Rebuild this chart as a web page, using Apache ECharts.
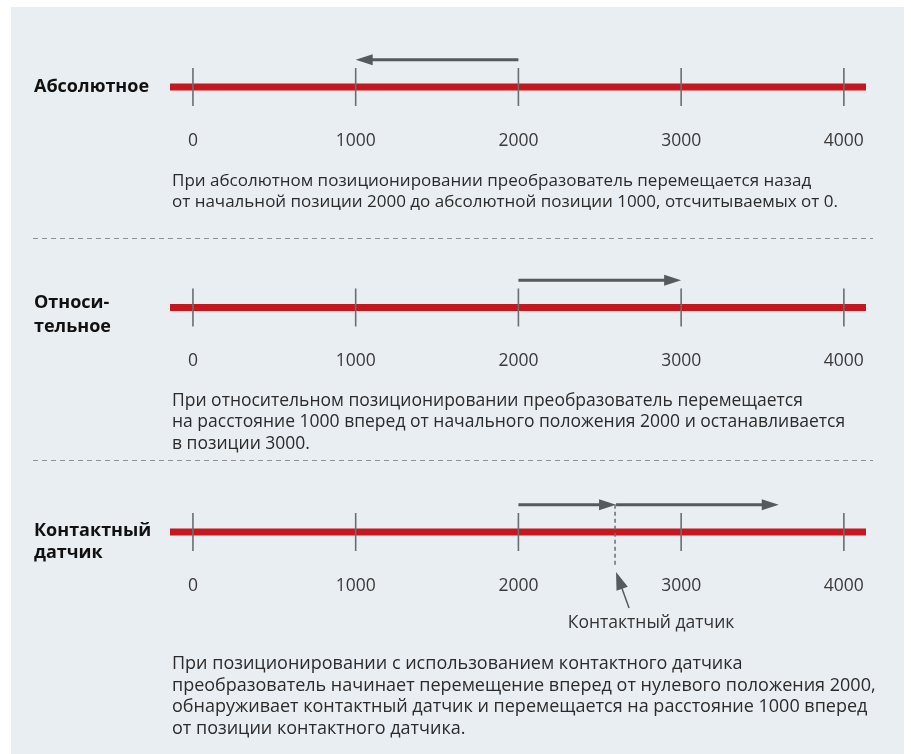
<!DOCTYPE html>
<html><head><meta charset="utf-8">
<script src="https://cdn.jsdelivr.net/npm/echarts@6/dist/echarts.min.js"></script>
<style>html,body{margin:0;padding:0;background:#fff}#c{width:911px;height:754px}</style>
</head><body><div id="c"></div>
<script>
// ---- data ----
const tickValues = [0, 1000, 2000, 3000, 4000];
const tickLabels = ['0', '1000', '2000', '3000', '4000'];
const scaleExtent = [-141, 4136];
const modeTitles = [['Абсолютное'], ['Относи-', 'тельное'], ['Контактный', 'датчик']];
const absoluteMoves = [[2000, 1000]];
const relativeMoves = [[2000, 3000]];
const sensorMoves = [[2000, 2600], [2600, 3600]];
const sensorPositions = [2600];
const sensorLabel = 'Контактный датчик';
const descAbsolute = [
  'При абсолютном позиционировании преобразователь перемещается назад',
  'от начальной позиции 2000 до абсолютной позиции 1000, отсчитываемых от 0.'
];
const descRelative = [
  'При относительном позиционировании преобразователь перемещается',
  'на расстояние 1000 вперед от начального положения 2000 и останавливается',
  'в позиции 3000.'
];
const descSensor = [
  'При позиционировании с использованием контактного датчика',
  'преобразователь начинает перемещение вперед от нулевого положения 2000,',
  'обнаруживает контактный датчик и перемещается на расстояние 1000 вперед',
  'от позиции контактного датчика.'
];

// ---- layout / style ----
const FONT = 'Open Sans';
const RED = '#c5171e';
const ARROW = '#555a5e';
const centers = [87, 307.5, 532];
const HALF = 19;
const ARROW_LEVEL = 1.44;

function arrowParts(p1, p2, headLen, headHalf, color, width) {
  const dx = p2[0] - p1[0], dy = p2[1] - p1[1];
  const len = Math.hypot(dx, dy);
  const ux = dx / len, uy = dy / len, nx = -uy, ny = ux;
  const bx = p2[0] - ux * headLen, by = p2[1] - uy * headLen;
  return [
    { type: 'line', shape: { x1: p1[0], y1: p1[1], x2: bx + ux, y2: by + uy }, style: { stroke: color, lineWidth: width } },
    { type: 'polygon', shape: { points: [[p2[0], p2[1]], [bx + nx * headHalf, by + ny * headHalf], [bx - nx * headHalf, by - ny * headHalf]] }, style: { fill: color } }
  ];
}

const grids = centers.map(c => ({ left: 170, right: 45, top: c - HALF, height: HALF * 2 }));
const xAxes = centers.map((c, i) => ({
  type: 'value', gridIndex: i, min: scaleExtent[0], max: scaleExtent[1],
  axisLine: { show: false }, axisTick: { show: false }, splitLine: { show: false },
  axisLabel: {
    customValues: tickValues, margin: 26, color: '#3a3a3a', fontSize: 17.5, fontFamily: FONT,
    formatter: v => tickLabels[tickValues.indexOf(v)]
  }
}));
const yAxes = centers.map((c, i) => ({ type: 'value', gridIndex: i, min: -1, max: 1, show: false }));

const series = [];
centers.forEach((c, i) => {
  series.push({
    type: 'line', xAxisIndex: i, yAxisIndex: i, symbol: 'none', silent: true,
    data: [[scaleExtent[0], 0], [scaleExtent[1], 0]],
    lineStyle: { color: RED, width: 7, cap: 'butt' }, z: 2
  });
  series.push({
    type: 'custom', xAxisIndex: i, yAxisIndex: i, silent: true, clip: false, z: 3,
    data: tickValues,
    renderItem: (params, api) => {
      const a = api.coord([api.value(0), 1]);
      const b = api.coord([api.value(0), -1]);
      return { type: 'line', shape: { x1: a[0], y1: a[1], x2: b[0], y2: b[1] }, style: { stroke: '#6b6e70', lineWidth: 1.6 } };
    }
  });
});
const moveSets = [absoluteMoves, relativeMoves, sensorMoves];
moveSets.forEach((moves, i) => {
  series.push({
    type: 'custom', xAxisIndex: i, yAxisIndex: i, silent: true, clip: false, z: 4,
    data: moves,
    renderItem: (params, api) => {
      const p1 = api.coord([api.value(0), ARROW_LEVEL]);
      const p2 = api.coord([api.value(1), ARROW_LEVEL]);
      return { type: 'group', children: arrowParts(p1, p2, 17, 5.5, ARROW, 3) };
    }
  });
});
// sensor marker
series.push({
  type: 'custom', xAxisIndex: 2, yAxisIndex: 2, silent: true, clip: false, z: 4,
  data: sensorPositions,
  renderItem: (params, api) => {
    const top = api.coord([api.value(0), ARROW_LEVEL]);
    const bot = api.coord([api.value(0), -1.8]);
    const tip = api.coord([api.value(0), -2.1]);
    const tail = [tip[0] + 13, tip[1] + 36];
    return {
      type: 'group', children: [
        { type: 'line', shape: { x1: top[0] - 1, y1: top[1], x2: bot[0] - 1, y2: bot[1] }, style: { stroke: '#6b6e70', lineWidth: 1.5, lineDash: [4, 3] } },
        ...arrowParts(tail, tip, 18, 6, ARROW, 1.5),
        { type: 'text', x: tip[0] + 35, y: tail[1] + 15, style: { text: sensorLabel, fill: '#333', font: '17.5px "' + FONT + '"', align: 'center', verticalAlign: 'middle' } }
      ]
    };
  }
});

const graphics = [
  { type: 'rect', shape: { x: 11, y: 7, width: 893, height: 747 }, style: { fill: '#e9eef2' }, z: -10 },
  { type: 'line', shape: { x1: 33, y1: 238.5, x2: 873, y2: 238.5 }, style: { stroke: '#8d9296', lineWidth: 1, lineDash: [5, 4] } },
  { type: 'line', shape: { x1: 33, y1: 460.5, x2: 873, y2: 460.5 }, style: { stroke: '#8d9296', lineWidth: 1, lineDash: [5, 4] } }
];
const titleY = [[87], [303, 327], [531, 553]];
modeTitles.forEach((lines, i) => lines.forEach((t, j) => graphics.push({
  type: 'text', x: 34, y: titleY[i][j],
  style: { text: t, fill: '#111', font: 'bold 18px "' + FONT + '"', verticalAlign: 'middle' }
})));
const descs = [[descAbsolute, 181, 17], [descRelative, 401, 17.5], [descSensor, 664, 18]];
descs.forEach(([lines, y0, fs]) => lines.forEach((t, j) => graphics.push({
  type: 'text', x: 172, y: y0 + j * 21.5,
  style: { text: t, fill: '#2b2b2b', font: fs + 'px "' + FONT + '"', verticalAlign: 'middle' }
})));

const chart = echarts.init(document.getElementById('c'));
chart.setOption({
  animation: false,
  backgroundColor: '#ffffff',
  grid: grids, xAxis: xAxes, yAxis: yAxes, series: series, graphic: graphics
});
</script></body></html>
